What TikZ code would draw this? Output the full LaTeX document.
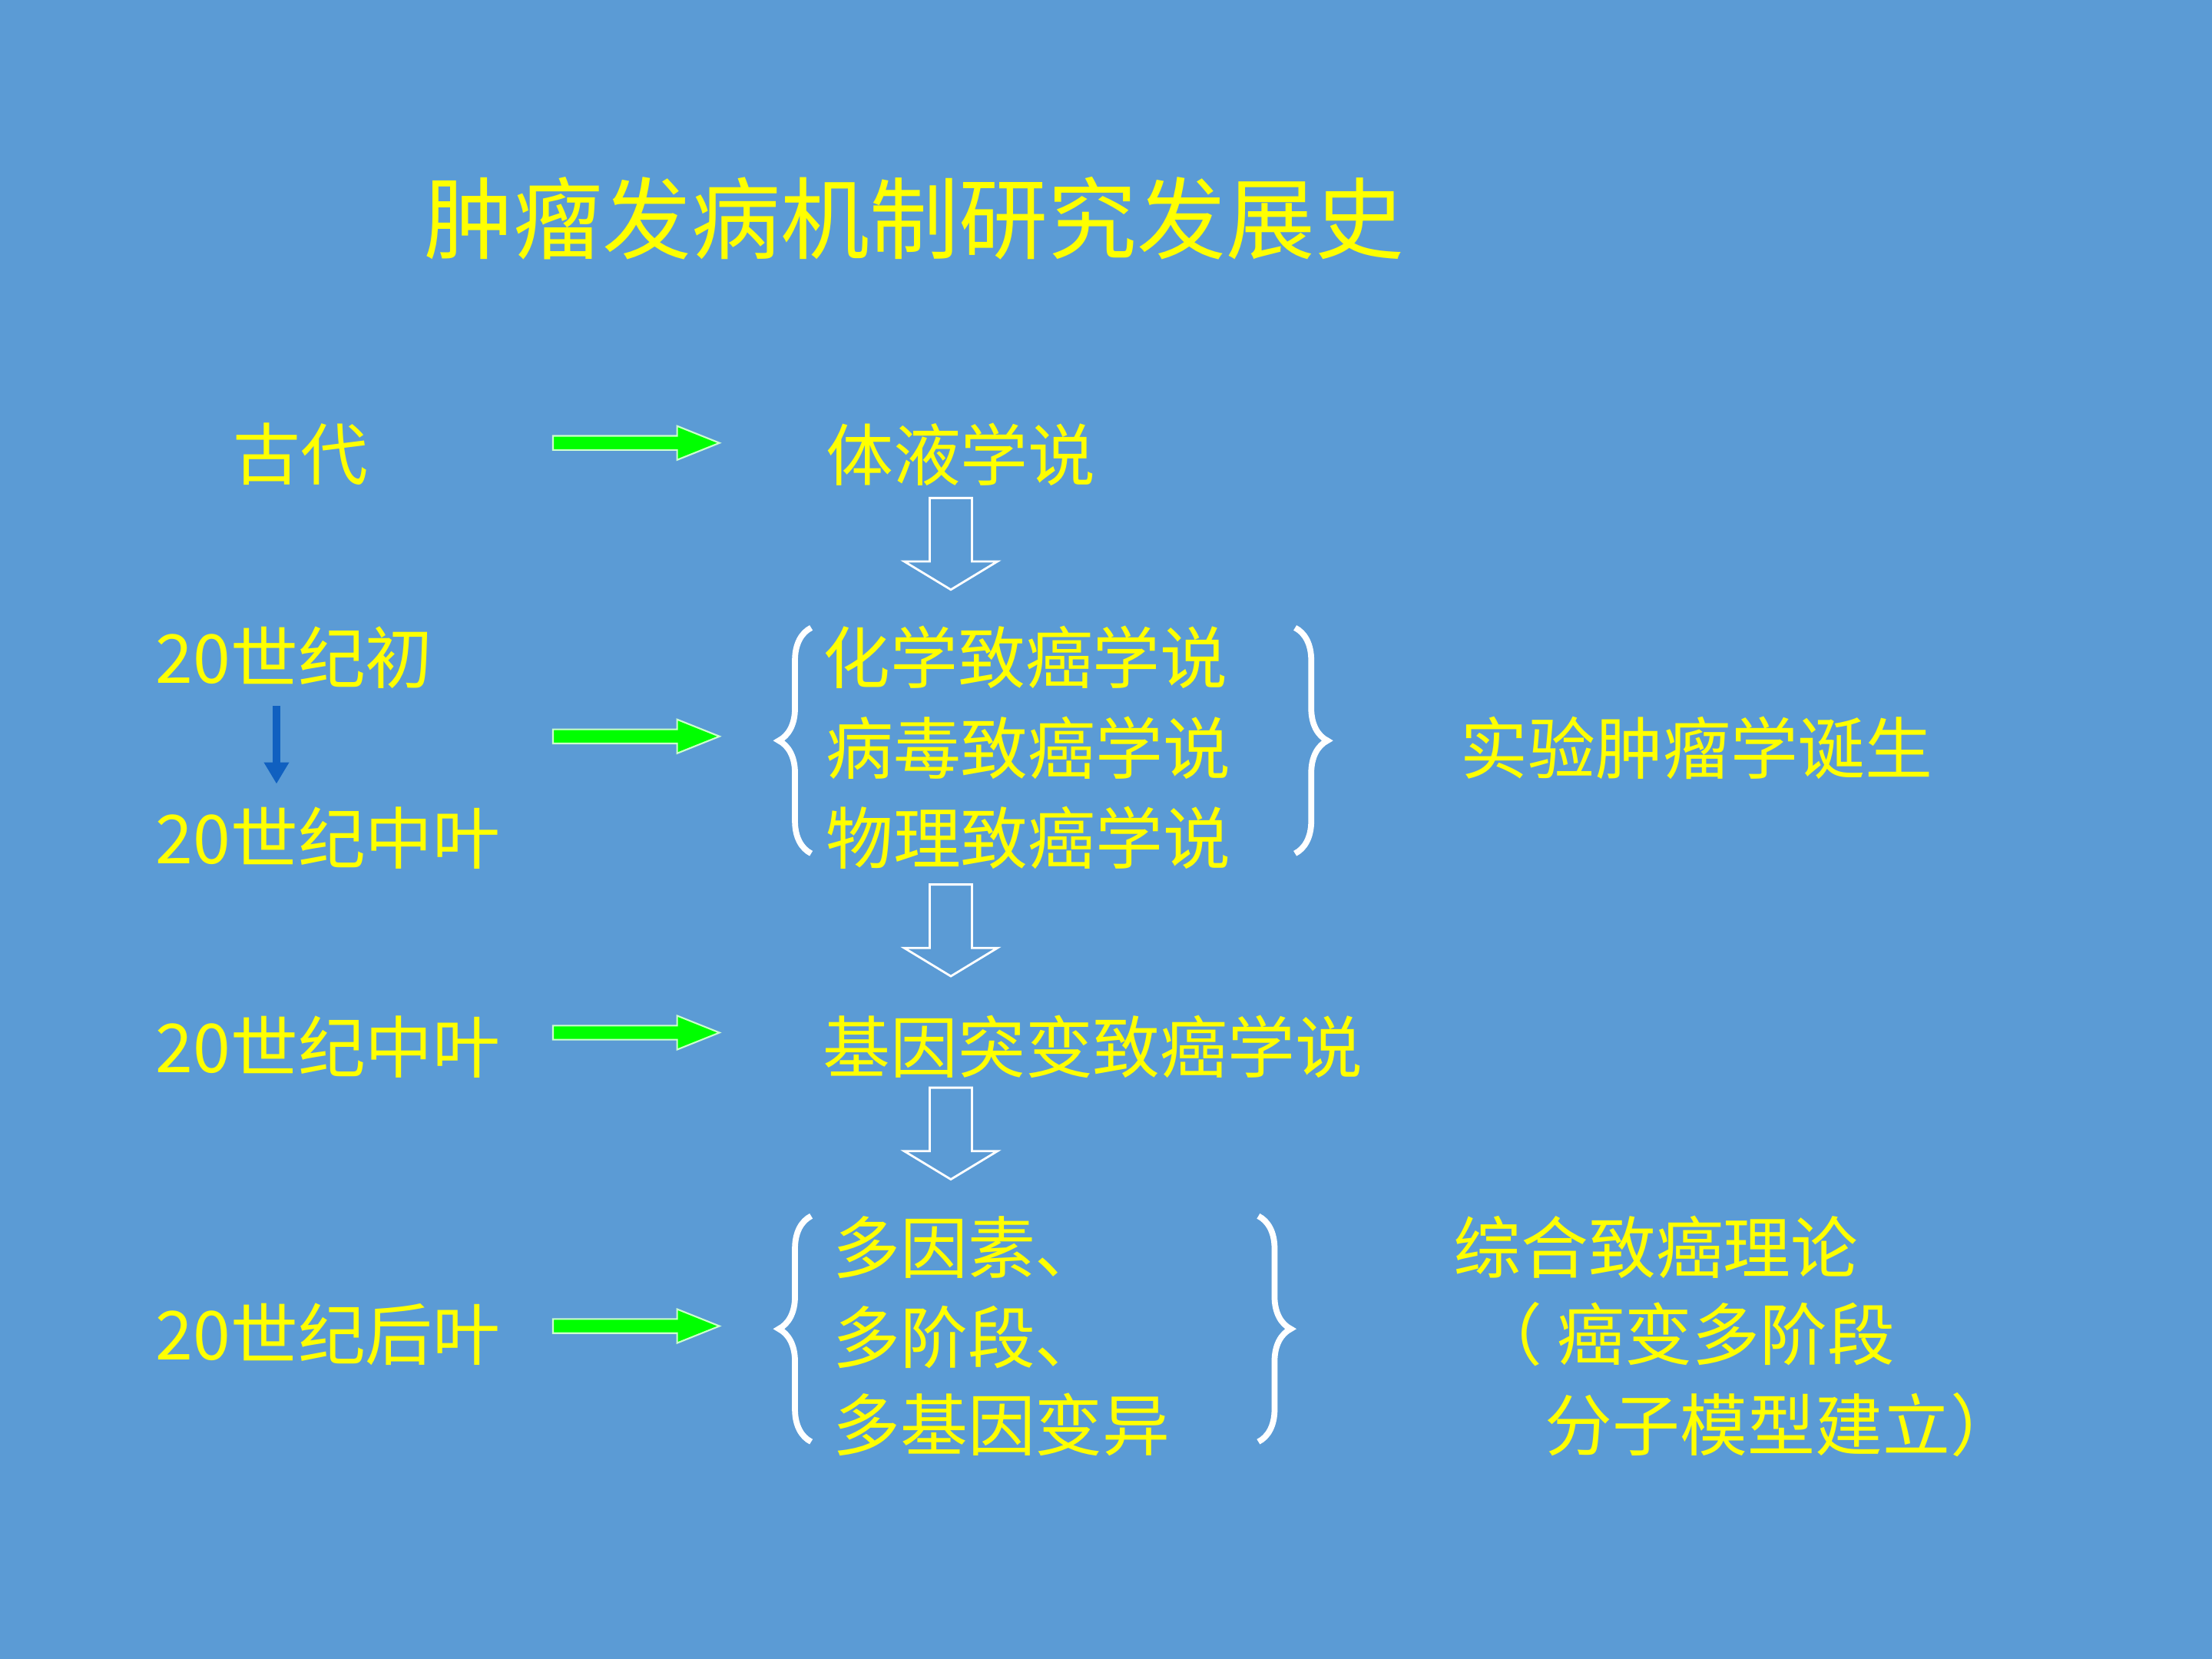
\documentclass[tikz,border=0pt]{standalone}
\usepackage{fontspec}
\setmainfont{Noto Sans CJK SC}
\usetikzlibrary{decorations.pathreplacing}
\definecolor{bgblue}{HTML}{5B9BD5}
\definecolor{txtyellow}{HTML}{FFFF00}
\definecolor{arrgreen}{HTML}{00FF00}
\definecolor{arrblue}{HTML}{1060C0}
\tikzset{
  txt/.style={anchor=west,text=txtyellow,inner sep=0pt,font=\fontsize{25}{30}\selectfont},
  ttl/.style={text=txtyellow,inner sep=0pt,font=\fontsize{33}{40}\selectfont},
  brc/.style={draw=white,line width=2.2pt,decorate,decoration={brace,amplitude=12pt}},
  hollow/.style={draw=white,line width=0.8pt},
  greenarr/.style={fill=arrgreen,draw=white!80!arrgreen,line width=0.6pt}
}
\begin{document}
\begin{tikzpicture}[x=0.018367cm,y=-0.018367cm]
\fill[bgblue] (0,0) rectangle (1568,1176);
\node[ttl] (title) at (648,155) {肿瘤发病机制研究发展史};
% left column
\node[txt] (ancient) at (165,322) {古代};
\node[txt] (early) at (110,466) {20世纪初};
\node[txt] (mid1) at (110,594) {20世纪中叶};
\node[txt] (mid2) at (110,742) {20世纪中叶};
\node[txt] (late) at (110,946) {20世纪后叶};
% middle column
\node[txt] (humor) at (585,322) {体液学说};
\node[txt] (chem) at (583,466) {化学致癌学说};
\node[txt] (virus) at (585,530) {病毒致癌学说};
\node[txt] (phys) at (585,594) {物理致癌学说};
\node[txt] (gene) at (583,742) {基因突变致癌学说};
\node[txt] (multa) at (590,884) {多因素、};
\node[txt] (multb) at (590,948) {多阶段、};
\node[txt] (multc) at (590,1010) {多基因变异};
% right column
\node[txt] (exper) at (1035,530) {实验肿瘤学诞生};
\node[txt] (synth) at (1030,884) {综合致癌理论};
\node[txt] (stage) at (1045,946) {（ 癌变多阶段};
\node[txt] (model) at (1095,1010) {分子模型建立）};
% braces
\draw[brc] (575,605) -- (575,445);
\draw[brc] (918,445) -- (918,605);
\draw[brc] (575,1022) -- (575,862);
\draw[brc] (892,862) -- (892,1022);
% green arrows
\foreach \y in {314,522,732,940}
  \draw[greenarr] (392,\y-5) -- (480,\y-5) -- (480,\y-12) -- (510,\y)
    -- (480,\y+12) -- (480,\y+5) -- (392,\y+5) -- cycle;
% hollow down arrows
\foreach \y in {353,627,771}
  \draw[hollow] (659,\y) -- (689,\y) -- (689,\y+45) -- (707,\y+45) -- (674,\y+65)
    -- (641,\y+45) -- (659,\y+45) -- cycle;
% blue arrow
\draw[arrblue,line width=3pt] (early.south west)++(86,12) coordinate (bs) -- ++(0,40) coordinate (be);
\fill[arrblue] (be)++(-9,0) -- ++(18,0) -- ++(-9,15) -- cycle;
\end{tikzpicture}
\end{document}
